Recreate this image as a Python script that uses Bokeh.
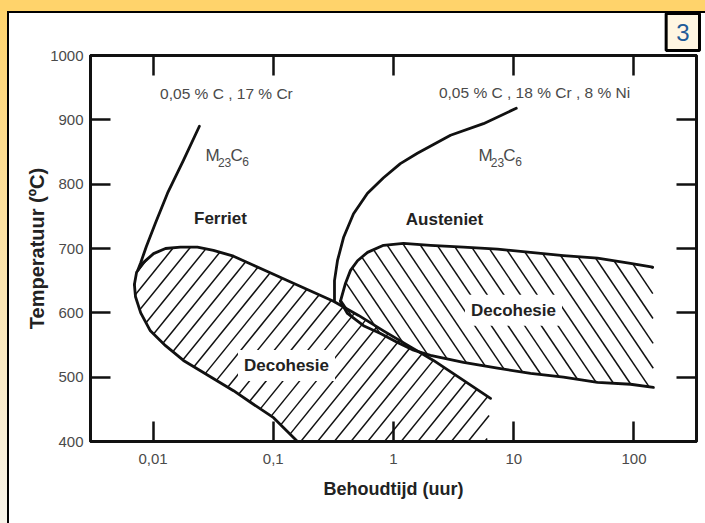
import math
from bokeh.plotting import figure
from bokeh.models import LogAxis, LinearAxis, FixedTicker, Range1d, Label, CustomLabelingPolicy
from bokeh.embed import file_html
from bokeh.resources import INLINE

# ---------------- data ----------------
x_ticks = [0.01, 0.1, 1, 10, 100]
x_tick_labels = ["0,01", "0,1", "1", "10", "100"]
y_ticks = [400, 500, 600, 700, 800, 900, 1000]

# M23C6 precipitation curve, ferritic steel (0,05 % C, 17 % Cr)
fer_m23_t = [0.0243, 0.0179, 0.0132, 0.0105, 0.0088, 0.0079, 0.0075]
fer_m23_T = [890, 837, 786, 740, 703, 678, 667]

# Decohesion region, ferritic steel: lower branch (axis -> nose)
fer_low_t = [0.168, 0.159, 0.1005, 0.0646, 0.0467, 0.0248, 0.0179, 0.0127, 0.0095, 0.0079, 0.00715, 0.0070]
fer_low_T = [394, 400, 437, 461, 479, 510, 526, 549, 572, 600, 625, 644]
# upper branch (nose -> right end)
fer_up_t = [0.0070, 0.0073, 0.0083, 0.0101, 0.0127, 0.0169, 0.0234, 0.0318, 0.0467, 0.0685,
            0.1005, 0.147, 0.216, 0.317, 0.512, 0.826, 1.33, 2.15, 3.61, 6.41]
fer_up_T = [644, 663, 678, 692, 700, 702, 702, 697, 688, 674,
            660, 646, 632, 618, 596, 572, 549, 526, 498, 467]
# open (hatched-only) right edge
fer_edge_t = [6.41, 5.93]
fer_edge_T = [467, 391]

# M23C6 precipitation curve, austenitic steel (0,05 % C, 18 % Cr, 8 % Ni)
aus_m23_t = [10.5, 5.60, 2.98, 1.58, 1.14, 0.826, 0.608, 0.465, 0.384, 0.342, 0.323, 0.323]
aus_m23_T = [918, 894, 876, 848, 832, 810, 786, 754, 717, 681, 650, 619]

# Decohesion region, austenitic steel
aus_up_t = [0.362, 0.399, 0.439, 0.502, 0.608, 0.826, 1.21, 2.03, 3.82, 7.33, 13.8, 25.9, 49.7, 93.5, 143]
aus_up_T = [618, 646, 666, 681, 694, 705, 708, 705, 702, 699, 694, 689, 685, 677, 671]
aus_low_t = [0.362, 0.414, 0.563, 0.780, 1.08, 1.47, 2.03, 3.82, 7.33, 13.8, 25.9, 49.7, 93.5, 145]
aus_low_T = [618, 599, 580, 568, 554, 542, 534, 523, 514, 506, 500, 492, 489, 484]

# ---------------- styling ----------------
INK = "#111111"
GRAY = "#4a4a4a"
SANS = "'Liberation Sans', Arial, sans-serif"
W, H = 705, 523
FL, FR, FT, FB = 90, 9, 55, 82           # borders around the plot frame
X_LO, X_HI = 10 ** -2.52, 10 ** 2.52
Y_LO, Y_HI = 400, 1000
PXD = (W - FL - FR) / (math.log10(X_HI) - math.log10(X_LO))   # px per decade
PYD = (H - FT - FB) / (Y_HI - Y_LO)                           # px per degree

p = figure(width=W, height=H, x_axis_type="log",
           x_range=Range1d(X_LO, X_HI), y_range=Range1d(Y_LO, Y_HI),
           output_backend="svg", toolbar_location=None,
           min_border_left=FL, min_border_right=FR, min_border_top=FT, min_border_bottom=FB)
p.background_fill_color = "white"
p.border_fill_alpha = 0
p.outline_line_color = INK
p.outline_line_width = 3
p.grid.visible = False
# slide frame: orange strips with black edges, white sheet
p.styles = {"background": (
    "linear-gradient(#FFD36B, #FFD36B) left 0 top 0 / 100% 11px no-repeat, "
    "linear-gradient(#FFD36B, #F8F4EA) left 0 top 0 / 7px 100% no-repeat, "
    "linear-gradient(#000, #000) left 0 top 11px / 100% 2px no-repeat, "
    "linear-gradient(#000, #000) left 7px top 0 / 2px 100% no-repeat, "
    "#ffffff")}

bottom_ax = p.below[0]
left_ax = p.left[0]
top_ax = LogAxis()
right_ax = LinearAxis()
p.add_layout(top_ax, "above")
p.add_layout(right_ax, "right")

for ax in [bottom_ax, top_ax]:
    ax.ticker = FixedTicker(ticks=x_ticks)
for ax in [left_ax, right_ax]:
    ax.ticker = FixedTicker(ticks=y_ticks)

for ax in [bottom_ax, left_ax, top_ax, right_ax]:
    ax.axis_line_color = INK
    ax.axis_line_width = 3
    ax.major_tick_line_color = INK
    ax.major_tick_line_width = 2.5
    ax.major_tick_in = 20
    ax.major_tick_out = 0
    ax.minor_tick_line_color = None
    ax.major_label_text_font = SANS
    ax.major_label_text_font_size = "15px"
    ax.major_label_text_color = GRAY
    ax.axis_label_text_font = SANS
    ax.axis_label_text_font_style = "bold"
    ax.axis_label_text_color = "#222222"

for ax in [top_ax, right_ax]:
    ax.major_label_policy = CustomLabelingPolicy(code="return new Set()")
    ax.major_label_text_font_size = "1px"
    ax.major_label_standoff = 0

bottom_ax.major_label_overrides = {t: s for t, s in zip(x_ticks, x_tick_labels)}
bottom_ax.major_label_standoff = 12
bottom_ax.axis_label = "Behoudtijd (uur)"
bottom_ax.axis_label_text_font_size = "18px"
bottom_ax.axis_label_standoff = 12
left_ax.major_label_standoff = 7
left_ax.axis_label = "Temperatuur (ºC)"
left_ax.axis_label_text_font_size = "20px"
left_ax.axis_label_standoff = -1

# ---------------- hatched decohesion regions ----------------
def hatch(poly_t, poly_T, angle, spacing):
    """parallel hatch segments (screen angle/spacing) clipped to a polygon"""
    a = math.radians(angle)
    dx, dy = math.cos(a), math.sin(a)
    nx, ny = -dy, dx
    u = [math.log10(t) * PXD for t in poly_t]
    v = [T * PYD for T in poly_T]
    s = [ui * nx + vi * ny for ui, vi in zip(u, v)]
    n = len(u)
    xs, ys = [], []
    for k in range(math.ceil(min(s) / spacing), math.floor(max(s) / spacing) + 1):
        sk = k * spacing
        pts = []
        for i in range(n):
            j = (i + 1) % n
            if (s[i] <= sk < s[j]) or (s[j] <= sk < s[i]):
                f = (sk - s[i]) / (s[j] - s[i])
                pu = u[i] + f * (u[j] - u[i])
                pv = v[i] + f * (v[j] - v[i])
                pts.append((pu * dx + pv * dy, pu, pv))
        pts.sort()
        for m in range(0, len(pts) - 1, 2):
            _, ua, va = pts[m]
            _, ub, vb = pts[m + 1]
            xs.append([10 ** (ua / PXD), 10 ** (ub / PXD)])
            ys.append([va / PYD, vb / PYD])
    return xs, ys

fer_poly_t = fer_low_t + fer_up_t[1:] + fer_edge_t[1:]
fer_poly_T = fer_low_T + fer_up_T[1:] + fer_edge_T[1:]
hx, hy = hatch(fer_poly_t, fer_poly_T, 51, 13.0)
p.multi_line(hx, hy, line_color=INK, line_width=1.5)

aus_poly_t = aus_up_t + aus_low_t[::-1]
aus_poly_T = aus_up_T + aus_low_T[::-1]
hx, hy = hatch(aus_poly_t, aus_poly_T, 124, 13.8)
p.multi_line(hx, hy, line_color=INK, line_width=1.5)

# boundaries and curves
for xs, ys in [(fer_low_t, fer_low_T), (fer_up_t, fer_up_T), (fer_m23_t, fer_m23_T),
               (aus_up_t, aus_up_T), (aus_low_t, aus_low_T), (aus_m23_t, aus_m23_T)]:
    p.line(xs, ys, line_color=INK, line_width=2.8, line_join="round", line_cap="round")

# ---------------- texts ----------------
def lab(x, y, text, size, color, style="normal", bg=None, pad=0, xo=0, yo=0):
    kw = dict(x=x, y=y, text=text, text_font=SANS, text_font_size=size, text_color=color,
              text_font_style=style, text_align="center", text_baseline="middle",
              x_offset=xo, y_offset=yo)
    if bg is not None:
        kw.update(background_fill_color=bg, padding=pad)
    p.add_layout(Label(**kw))

lab(0.0408, 941, "0,05 % C , 17 % Cr", "15.5px", GRAY)
lab(14.9, 942, "0,05 % C , 18 % Cr , 8 % Ni", "15.5px", GRAY)

# M23C6 labels (built from pieces for the subscripts)
for cx, cy in [(0.0425, 845), (7.91, 845)]:
    lab(cx, cy, "M", "17px", GRAY, xo=-16)
    lab(cx, cy, "23", "12px", GRAY, xo=-4, yo=-7)
    lab(cx, cy, "C", "17px", GRAY, xo=8)
    lab(cx, cy, "6", "12px", GRAY, xo=17, yo=-6)

lab(0.0364, 747, "Ferriet", "17px", "#222222", style="bold")
lab(2.655, 745, "Austeniet", "17px", "#222222", style="bold")
lab(0.1288, 518, "Decohesie", "17px", "#222222", style="bold", bg="white", pad=6)
lab(9.95, 604, "Decohesie", "17px", "#222222", style="bold", bg="white", pad=6)

# slide number box
p.title.text = "3"
p.title.align = "right"
p.title.text_font = SANS
p.title.text_font_style = "normal"
p.title.text_font_size = "24px"
p.title.text_color = "#1F5C99"
p.title.background_fill_color = "#FFF6E2"
p.title.border_line_color = "black"
p.title.border_line_width = 3
p.title.padding = 10
p.title.standoff = 0
p.title.offset = -3

open("out.html", "w").write(file_html(p, INLINE))
